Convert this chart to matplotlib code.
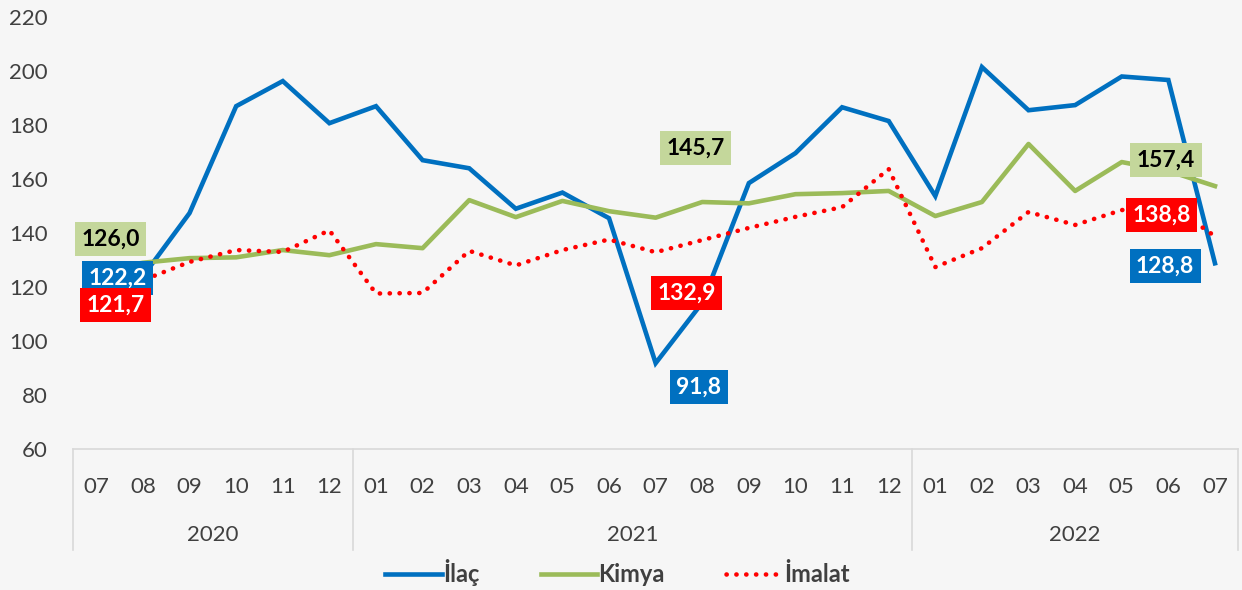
import matplotlib
matplotlib.use("Agg")
import matplotlib.pyplot as plt
import numpy as np

# months 07/2020 .. 07/2022
MONTHS = ["07", "08", "09", "10", "11", "12",
          "01", "02", "03", "04", "05", "06", "07", "08", "09", "10", "11", "12",
          "01", "02", "03", "04", "05", "06", "07"]
YEARS = ["2020"] * 6 + ["2021"] * 12 + ["2022"] * 7

ilac = [122.2, 124.0, 147.4, 187.0, 196.3, 180.7, 187.0, 167.0, 164.0, 149.0,
        155.0, 145.5, 91.8, 114.2, 158.5, 169.6, 186.6, 181.5, 153.7, 201.5,
        185.5, 187.4, 198.0, 196.7, 128.8]
kimya = [126.0, 129.0, 130.7, 131.0, 133.7, 131.8, 135.9, 134.4, 152.2, 145.9,
         151.9, 148.1, 145.7, 151.5, 151.0, 154.4, 154.8, 155.6, 146.3, 151.5,
         173.0, 155.6, 166.3, 163.0, 157.4]
imalat = [121.7, 122.5, 129.3, 133.7, 133.0, 141.0, 117.6, 117.8, 133.4, 128.0,
          133.7, 137.6, 132.9, 137.4, 141.9, 146.0, 149.6, 163.7, 127.4, 134.4,
          147.8, 143.0, 148.5, 151.0, 138.8]

BG = "#f6f6f6"
BLUE = "#0070c0"
GREEN = "#9bbb59"
RED = "#ff0000"
GREEN_BOX = "#c4d79b"
TXT = "#404040"

plt.rcParams["font.family"] = ["Lato", "DejaVu Sans"]

fig = plt.figure(figsize=(12.42, 5.9), dpi=100, facecolor=BG)
ax = fig.add_axes([0.0588, 0.239, 0.9382, 0.732])
ax.set_facecolor(BG)

x = np.arange(len(MONTHS))
ax.plot(x, ilac, color=BLUE, lw=3.3, label="İlaç", solid_joinstyle="miter")
ax.plot(x, kimya, color=GREEN, lw=3.3, label="Kimya")
ax.plot(x, imalat, color=RED, lw=3.3, linestyle=(0, (0.05, 2.1)),
        dash_capstyle="round", label="İmalat")

ax.set_xlim(-0.5, len(MONTHS) - 0.5)
ax.set_ylim(60, 220)
ax.set_yticks(np.arange(60, 221, 20))
ax.tick_params(axis="y", length=0, labelsize=16, labelcolor=TXT, pad=18)
ax.set_xticks(x)
ax.set_xticklabels(MONTHS)
ax.tick_params(axis="x", length=0, labelsize=16, labelcolor=TXT, pad=20)

for s in ["left", "right", "top"]:
    ax.spines[s].set_visible(False)
ax.spines["bottom"].set_color("#d9d9d9")
ax.spines["bottom"].set_linewidth(1.2)

# year group separators and labels
trans = ax.get_xaxis_transform()
bounds = [-0.5]
for i in range(1, len(YEARS)):
    if YEARS[i] != YEARS[i - 1]:
        bounds.append(i - 0.5)
bounds.append(len(YEARS) - 0.5)
for b in bounds:
    ax.plot([b, b], [0, -0.235], transform=trans, color="#d9d9d9", lw=1.2,
            clip_on=False)
for a, b in zip(bounds[:-1], bounds[1:]):
    yr = YEARS[int(a + 0.5)]
    ax.text((a + b) / 2, -0.199, yr, transform=trans, ha="center", va="center",
            fontsize=16, color=TXT)

# value labels
def box(xp, yp, text, fc, tc):
    ax.text(xp, yp, text, ha="center", va="center", fontsize=16.5,
            fontweight="bold", color=tc,
            bbox=dict(boxstyle="square,pad=0.28", fc=fc, ec="none"))

box(0.31, 137.8, "126,0", GREEN_BOX, "black")
box(0.46, 123.3, "122,2", BLUE, "white")
box(0.42, 113.3, "121,7", RED, "white")
box(12.85, 171.5, "145,7", GREEN_BOX, "black")
box(12.66, 117.8, "132,9", RED, "white")
box(12.93, 83.0, "91,8", BLUE, "white")
box(22.95, 167.0, "157,4", GREEN_BOX, "black")
box(22.85, 146.7, "138,8", RED, "white")
box(22.93, 127.8, "128,8", BLUE, "white")

leg = fig.legend(loc="center", bbox_to_anchor=(0.497, 0.03), ncol=3,
                 frameon=False, handlelength=2.4, columnspacing=2.6,
                 handletextpad=0.05, prop={"size": 17, "weight": "bold"})
for t in leg.get_texts():
    t.set_color(TXT)

fig.savefig("out.png", dpi=100, facecolor=BG)
